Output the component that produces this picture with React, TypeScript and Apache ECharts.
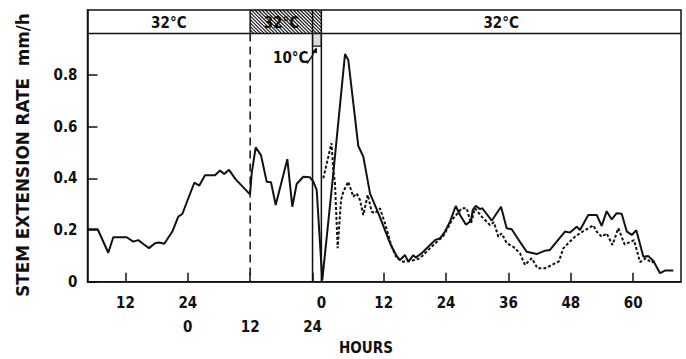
import React, { useEffect, useRef } from "react";
import * as echarts from "echarts";

const FONT = "'DejaVu Sans Condensed', 'DejaVu Sans', sans-serif";
const WIDE_FONT = "'DejaVu Sans', sans-serif";
const INK = "#111";

// Timeline in hours. First label row = timeline value; second row = timeline - SECOND_ZERO;
// post-treatment labels = timeline - POST_ZERO.
const X_MIN = 4.7;
const X_MAX = 118.9;
const SECOND_ZERO = 24;
const POST_ZERO = 49.7;
const Y_MAX = 1.0515;
const BAND_LOW = 0.961;
const COLD_BOX_LOW = 0.912;

const row1Ticks = [12, 24];
const row2Ticks = [0, 12, 24];
const postTicks = [0, 12, 24, 36, 48, 60];
const yTicks = [0, 0.2, 0.4, 0.6, 0.8];

// phase boundaries on the timeline: 32°C | 32°C (hatched) | 10°C | 32°C
const phaseBounds = [X_MIN, 36, 48, POST_ZERO, X_MAX];
const bandLabels = ["32°C", "32°C", "32°C"];
const coldLabel = "10°C";

const solidHours = [
  4.75, 6.66, 8.7, 9.66, 12.24, 13.51, 14.47, 15.44, 16.53, 17.69, 18.46, 19.48, 21.02, 22.17, 22.94,
  25.25, 26.21, 27.31, 29.23, 30.2, 31.02, 31.93, 33.22, 35.97, 36.3, 37.06, 38.08, 39.18, 40.01, 40.91,
  43.15, 44.11, 44.95, 46.22, 47.51, 48.15, 48.8, 49.88, 52.0, 54.25, 54.88, 56.81, 57.77, 59.06, 60.66,
  62.91, 64.2, 64.83, 65.79, 66.43, 67.39, 67.85, 69.0, 70.28, 71.57, 72.53, 73.49, 74.45, 75.55, 76.38,
  77.53, 78.49, 78.82, 79.4, 80.23, 80.67, 81.51, 82.48, 84.27, 85.36, 86.32, 87.59, 89.21, 91.14, 92.73,
  93.69, 94.98, 96.58, 97.54, 98.83, 99.47, 101.06, 102.68, 103.64, 104.6, 105.57, 106.53, 107.49, 108.45,
  109.42, 110.3, 111.65, 112.61, 113.57, 114.86, 115.82, 117.42,
];
const solidRate = [
  0.203, 0.203, 0.112, 0.172, 0.172, 0.155, 0.161, 0.146, 0.13, 0.149, 0.152, 0.147, 0.194, 0.252, 0.262,
  0.383, 0.372, 0.412, 0.412, 0.43, 0.417, 0.433, 0.396, 0.338, 0.42, 0.52, 0.49, 0.387, 0.385, 0.297,
  0.474, 0.29, 0.378, 0.406, 0.404, 0.387, 0.355, 0.007, 0.42, 0.881, 0.858, 0.525, 0.484, 0.342, 0.265,
  0.149, 0.099, 0.084, 0.103, 0.077, 0.103, 0.093, 0.11, 0.135, 0.161, 0.168, 0.194, 0.232, 0.293, 0.258,
  0.22, 0.236, 0.277, 0.294, 0.281, 0.284, 0.262, 0.236, 0.29, 0.207, 0.203, 0.164, 0.116, 0.107, 0.12,
  0.123, 0.155, 0.194, 0.19, 0.213, 0.2, 0.258, 0.258, 0.216, 0.273, 0.241, 0.265, 0.263, 0.195,
  0.181, 0.199, 0.097, 0.099, 0.081, 0.033, 0.043, 0.043,
];

const dottedHours = [
  50.07, 51.65, 52.0, 52.32, 52.84, 53.48, 53.92, 54.88, 55.84, 56.5, 57.13, 57.77, 58.62, 59.39, 60.02,
  60.98, 61.94, 63.23, 64.2, 65.47, 66.56, 67.72, 68.68, 69.64, 70.6, 71.95, 73.1, 74.07, 74.84, 75.8,
  76.7, 77.66, 78.49, 79.26, 80.55, 82.15, 82.9, 83.75, 84.4, 85.36, 86.63, 87.92, 88.88, 90.17, 91.29,
  92.73, 94.17, 95.42, 96.25, 97.21, 98.5, 99.95, 102.03, 102.68, 103.64, 104.6, 105.72, 106.83, 108.06,
  109.86, 111.01, 112.13, 113.23, 113.9,
];
const dottedRate = [
  0.4, 0.536, 0.43, 0.381, 0.13, 0.316, 0.348, 0.387, 0.329, 0.342, 0.316, 0.258, 0.336, 0.271, 0.265,
  0.284, 0.226, 0.135, 0.091, 0.077, 0.08, 0.084, 0.091, 0.11, 0.129, 0.155, 0.175, 0.21, 0.24, 0.262,
  0.284, 0.284, 0.226, 0.284, 0.252, 0.219, 0.23, 0.174, 0.187, 0.149, 0.135, 0.11, 0.065, 0.091, 0.052,
  0.052, 0.066, 0.079, 0.129, 0.149, 0.174, 0.194, 0.218, 0.194, 0.174, 0.187, 0.142, 0.207, 0.144,
  0.161, 0.076, 0.091, 0.074, 0.08,
];

const yAxisTitle = "STEM EXTENSION RATE  mm/h";
const xAxisTitle = "HOURS";

function textEl(x: number, y: number, text: string, size: number, extra: any = {}) {
  return {
    type: "text",
    x,
    y,
    z: 20,
    ...extra,
    style: {
      text,
      fill: INK,
      fontSize: size,
      fontFamily: FONT,
      fontWeight: "bold",
      align: "center",
      verticalAlign: "middle",
      textAlign: "center",
      textVerticalAlign: "middle",
      ...(extra.style || {}),
    },
  };
}

function buildGraphic(chart: any) {
  const px = (t: number, v: number) => chart.convertToPixel({ gridIndex: 0 }, [t, v]) as number[];
  const els: any[] = [];
  const [xl, yb] = px(X_MIN, BAND_LOW);
  const [xr, yt] = px(X_MAX, Y_MAX);
  const [, y0] = px(X_MIN, 0);
  const line = (x1: number, y1: number, x2: number, y2: number, w = 1.5, dash?: number[]) => ({
    type: "line",
    z: 15,
    shape: { x1, y1, x2, y2 },
    style: { stroke: INK, lineWidth: w, lineDash: dash },
  });

  // band labels
  for (let i = 0; i < 3; i++) {
    const a = i === 2 ? phaseBounds[3] : phaseBounds[i];
    const b = i === 2 ? phaseBounds[4] : phaseBounds[i + 1];
    const [cx] = px((a + b) / 2, 0);
    els.push(textEl(cx, (yt + yb) / 2 + 1, bandLabels[i], 15));
  }

  // hatching over the shaded band part
  const [h0] = px(phaseBounds[1], 0);
  const [h1] = px(phaseBounds[3], 0);
  const step = 3.5;
  for (let k = h0 - yb; k <= h1 - yt; k += step) {
    const ys = Math.max(yt, h0 - k);
    const ye = Math.min(yb, h1 - k);
    if (ye > ys) els.push({ ...line(ys + k, ys, ye + k, ye, 1.1), z: 21 });
  }

  // band bottom line
  els.push(line(xl, yb, xr, yb, 1.5));

  // phase separators
  const [d36] = px(phaseBounds[1], 0);
  const [d48] = px(phaseBounds[2], 0);
  const [dP] = px(phaseBounds[3], 0);
  els.push(line(d36, yt, d36, yb, 1.5));
  els.push(line(d36, yb, d36, y0, 1.5, [8, 5]));
  els.push(line(d48, yt, d48, y0, 1.5));
  els.push(line(dP, yt, dP, y0, 1.5));

  // cold box below band
  const [, yc] = px(phaseBounds[2], COLD_BOX_LOW);
  els.push({
    type: "rect",
    z: 14,
    shape: { x: d48, y: yb, width: dP - d48, height: yc - yb },
    style: { fill: "#dcdcdc", stroke: INK, lineWidth: 1.2 },
  });

  // 10°C label with arrow
  const tipX = (d48 + dP) / 2 - 1;
  const tipY = yc + 1.5;
  const [, ly] = px(phaseBounds[2], 0.864);
  els.push(textEl(d48 - 4, ly, coldLabel, 15, { style: { align: "right", textAlign: "right" } }));
  els.push({
    type: "bezierCurve",
    z: 16,
    shape: { x1: tipX - 9, y1: tipY + 16, x2: tipX, y2: tipY + 1, cpx1: tipX - 4, cpy1: tipY + 10 },
    style: { stroke: INK, lineWidth: 1.5, fill: null },
  });
  els.push({
    type: "polygon",
    z: 16,
    shape: { points: [[tipX + 1, tipY], [tipX - 4, tipY + 4], [tipX + 1, tipY + 6]] },
    style: { fill: INK },
  });

  // axis titles
  els.push(
    textEl(23, 155, yAxisTitle, 16.8, { rotation: Math.PI / 2, style: { fontFamily: WIDE_FONT } })
  );
  els.push(textEl(366, 348, xAxisTitle, 15));
  return els;
}

export default function App() {
  const ref = useRef<HTMLDivElement>(null);
  useEffect(() => {
    const chart = echarts.init(ref.current!, null, { renderer: "svg" });
    const solid = solidHours.map((h, i) => [h, solidRate[i]]);
    const dotted = dottedHours.map((h, i) => [h, dottedRate[i]]);
    const postVals = postTicks.map((p) => POST_ZERO + p);
    const row2Vals = row2Ticks.map((r) => SECOND_ZERO + r);
    const labelStyle = { color: INK, fontSize: 15, fontFamily: FONT, fontWeight: "bold" };
    chart.setOption({
      animation: false,
      grid: {
        left: 87.5,
        right: 5,
        top: 10,
        bottom: 77.3,
        show: true,
        borderColor: INK,
        borderWidth: 1.5,
        backgroundColor: "transparent",
      },
      xAxis: [
        {
          type: "value",
          min: X_MIN,
          max: X_MAX,
          position: "bottom",
          axisLine: { show: true, lineStyle: { color: INK, width: 1.5 } },
          axisTick: {
            show: true,
            inside: true,
            length: 9,
            lineStyle: { color: INK, width: 1.5 },
            customValues: [...row1Ticks, ...row2Vals.slice(1), ...postVals],
          },
          axisLabel: {
            ...labelStyle,
            margin: 14,
            customValues: [...row1Ticks, ...postVals],
            formatter: (v: number) =>
              v < POST_ZERO - 0.01 ? String(v) : String(Math.round(v - POST_ZERO)),
          },
          splitLine: { show: false },
        },
        {
          type: "value",
          min: X_MIN,
          max: X_MAX,
          position: "bottom",
          axisLine: { show: false },
          axisTick: { show: false },
          splitLine: { show: false },
          axisLabel: {
            ...labelStyle,
            margin: 38,
            customValues: row2Vals,
            formatter: (v: number) => String(Math.round(v - SECOND_ZERO)),
          },
        },
      ],
      yAxis: {
        type: "value",
        min: 0,
        max: Y_MAX,
        axisLine: { show: true, lineStyle: { color: INK, width: 1.5 } },
        axisTick: { show: true, inside: true, length: 10, lineStyle: { color: INK, width: 1.5 }, customValues: yTicks },
        axisLabel: {
          ...labelStyle,
          margin: 10,
          customValues: yTicks,
          formatter: (v: number) => (v === 0 ? "0" : v.toFixed(1)),
        },
        splitLine: { show: false },
      },
      series: [
        {
          type: "line",
          data: solid,
          symbol: "none",
          lineStyle: { color: INK, width: 2 },
          z: 4,
        },
        {
          type: "line",
          data: dotted,
          symbol: "none",
          lineStyle: { color: INK, width: 2, type: [3, 2] },
          z: 3,
        },
      ],
    });
    chart.setOption({ graphic: { elements: buildGraphic(chart) } });
    return () => chart.dispose();
  }, []);
  return (
    <div
      ref={ref}
      style={{ position: "absolute", left: 0, top: 0, width: 686, height: 359, background: "#fff" }}
    />
  );
}
